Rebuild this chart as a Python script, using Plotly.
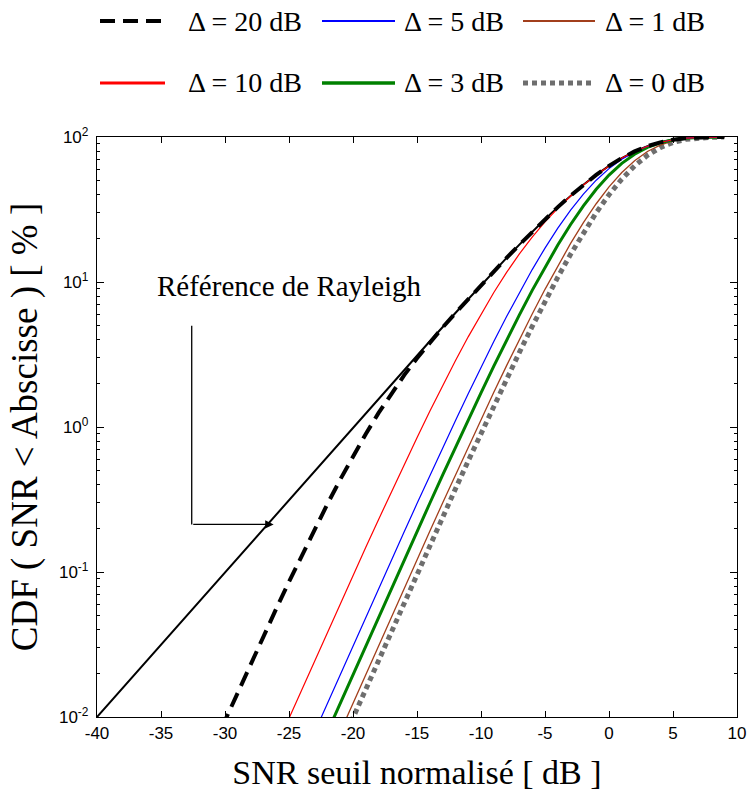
import plotly.graph_objects as go

# ---------------- data ----------------
x_ray = [-40, -35, -30, -25, -20, -18, -16, -14, -12, -10, -9, -8, -7, -6, -5, -4, -3, -2, -1,
         0, 1, 2, 3, 4, 5, 6, 7, 8, 9]
cdf_ray = [0.01, 0.0316, 0.09995, 0.3157, 0.995, 1.572, 2.481, 3.903, 6.115, 9.516, 11.83, 14.66,
           18.09, 22.21, 27.11, 32.84, 39.42, 46.79, 54.81, 63.21, 71.60, 79.51, 86.40, 91.89,
           95.77, 98.13, 99.33, 99.82, 99.96]

x_d20 = list(range(-31, 10))
cdf_d20 = [0.00606, 0.00951, 0.01488, 0.02322, 0.03605, 0.05573, 0.08559, 0.1305, 0.1971, 0.2943,
           0.4337, 0.6290, 0.8958, 1.250, 1.707, 2.279, 2.981, 3.830, 4.856, 6.104, 7.633, 9.516,
           11.83, 14.66, 18.09, 22.21, 27.11, 32.84, 39.42, 46.79, 54.81, 63.21, 71.60, 79.51,
           86.40, 91.89, 95.77, 98.13, 99.33, 99.82, 99.96]

x_d10 = list(range(-26, 10))
cdf_d10 = [0.006224, 0.009827, 0.01551, 0.02444, 0.03846, 0.06042, 0.09469, 0.1480, 0.2305, 0.3573,
           0.5510, 0.8439, 1.282, 1.927, 2.861, 4.186, 6.016, 8.470, 11.65, 15.63, 20.41, 25.96,
           32.23, 39.16, 46.71, 54.79, 63.21, 71.60, 79.51, 86.40, 91.89, 95.77, 98.13, 99.33,
           99.82, 99.96]

x_d5 = list(range(-23, 10))
cdf_d5 = [0.00786, 0.01243, 0.01963, 0.03097, 0.04883, 0.07687, 0.1208, 0.1894, 0.2962, 0.4617,
          0.7165, 1.106, 1.696, 2.580, 3.885, 5.778, 8.464, 12.18, 17.14, 23.52, 31.34, 40.43,
          50.37, 60.54, 70.27, 78.98, 86.24, 91.86, 95.77, 98.13, 99.33, 99.82, 99.96]

x_d3 = list(range(-22, 10))
cdf_d3 = [0.00787, 0.01244, 0.01966, 0.03103, 0.04895, 0.07710, 0.1213, 0.1903, 0.2980, 0.4652,
          0.7233, 1.119, 1.721, 2.628, 3.973, 5.940, 8.757, 12.69, 18.00, 24.92, 33.51, 43.58,
          54.62, 65.80, 76.14, 84.79, 91.28, 95.60, 98.10, 99.33, 99.82, 99.96]

x_d1 = list(range(-21, 10))
cdf_d1 = [0.00787, 0.01245, 0.01967, 0.03106, 0.04900, 0.07722, 0.1215, 0.1908, 0.2989, 0.4669,
          0.7267, 1.126, 1.734, 2.651, 4.018, 6.022, 8.903, 12.95, 18.45, 25.65, 34.65, 45.26,
          56.93, 68.69, 79.39, 88.00, 93.98, 97.48, 99.15, 99.78, 99.96]

x_d0 = list(range(-21, 10))
cdf_d0 = [0.00626, 0.00990, 0.01565, 0.02472, 0.03903, 0.06153, 0.09690, 0.1523, 0.2390, 0.3739,
          0.5831, 0.9056, 1.399, 2.148, 3.272, 4.935, 7.350, 10.79, 15.54, 21.90, 30.04, 39.96,
          51.27, 63.21, 74.65, 84.44, 91.72, 96.30, 98.67, 99.64, 99.93]

x_tickvals = [-40, -35, -30, -25, -20, -15, -10, -5, 0, 5, 10]
x_ticktext = ["-40", "-35", "-30", "-25", "-20", "-15", "-10", "-5", "0", "5", "10"]
y_tickvals = [0.01, 0.1, 1, 10, 100]
y_ticktext = ["10<sup>-2</sup>", "10<sup>-1</sup>", "10<sup>0</sup>", "10<sup>1</sup>", "10<sup>2</sup>"]

x_title = "SNR seuil normalisé [ dB ]"
y_title = "CDF ( SNR < Abscisse ) [ % ]"
annot_text = "Référence de Rayleigh"

# ---------------- styling ----------------
SERIF = "Liberation Serif, Times New Roman, serif"
SANS = "Liberation Sans, Arial, sans-serif"
W, H = 748, 793
L, R, T, B = 97, 11, 137, 76
PW, PH = W - L - R, H - T - B

BROWN = "#A23F1C"
series = [
    # key, label, x, y, color, width, dash, legend width
    ("ray", None, x_ray, cdf_ray, "#000000", 2, "solid", 2),
    ("d0", "Δ = 0 dB", x_d0, cdf_d0, "#6e6e6e", 5, "5px,4px", 5),
    ("d1", "Δ = 1 dB", x_d1, cdf_d1, BROWN, 1.3, "solid", 2.2),
    ("d3", "Δ = 3 dB", x_d3, cdf_d3, "#008000", 3, "solid", 3.5),
    ("d5", "Δ = 5 dB", x_d5, cdf_d5, "#0000FF", 1.2, "solid", 2.2),
    ("d10", "Δ = 10 dB", x_d10, cdf_d10, "#FF0000", 1.2, "solid", 3),
    ("d20", "Δ = 20 dB", x_d20, cdf_d20, "#000000", 4, "15px,8px", 4),
]

fig = go.Figure()
for key, label, xs, ys, col, wid, dash, _lw in series:
    fig.add_trace(go.Scatter(x=xs, y=ys, mode="lines", name=label or "Rayleigh",
                             line=dict(color=col, width=wid, dash=dash),
                             showlegend=False, hoverinfo="x+y"))

def px2x(px):
    return (px - L) / PW

def py2y(py):
    return (H - B - py) / PH

# manual legend: (key, col, row)
legend_layout = [("d20", 0, 0), ("d5", 1, 0), ("d1", 2, 0),
                 ("d10", 0, 1), ("d3", 1, 1), ("d0", 2, 1)]
col_line = [(100, 165), (322, 395), (523, 595)]
col_text = [186, 402, 603]
row_y = [21, 83]
style = {s[0]: s for s in series}
shapes = []
annotations = []
for key, c, r in legend_layout:
    _, label, _, _, col, wid, dash, lw = style[key]
    shapes.append(dict(type="line", xref="paper", yref="paper",
                       x0=px2x(col_line[c][0]), x1=px2x(col_line[c][1]),
                       y0=py2y(row_y[r]), y1=py2y(row_y[r]),
                       line=dict(color=col, width=lw, dash=dash)))
    annotations.append(dict(xref="paper", yref="paper", x=px2x(col_text[c]), y=py2y(row_y[r]),
                            xanchor="left", yanchor="middle", showarrow=False, text=label,
                            font=dict(family=SERIF, size=28, color="black")))

# Rayleigh reference callout
shapes.append(dict(type="line", xref="x", yref="y", x0=-32.6, x1=-32.6, y0=5.0, y1=0.213,
                   line=dict(color="black", width=1.3)))
annotations.append(dict(xref="x", yref="y", x=-26.2, y=-0.6716, ax=-32.6, ay=-0.6716,
                        axref="x", ayref="y", showarrow=True, arrowhead=2, arrowsize=1.3,
                        arrowwidth=1.3, arrowcolor="black", text=""))
annotations.append(dict(xref="x", yref="y", x=-25.0, y=0.972, showarrow=False, text=annot_text,
                        font=dict(family=SERIF, size=29, color="black")))

minor_y = [m * 10 ** e for e in range(-2, 2) for m in range(2, 10)]

fig.update_layout(
    width=W, height=H, margin=dict(l=L, r=R, t=T, b=B, autoexpand=False),
    paper_bgcolor="white", plot_bgcolor="white",
    shapes=shapes, annotations=annotations, showlegend=False,
    xaxis=dict(range=[-40, 10], tickmode="array", tickvals=x_tickvals, ticktext=x_ticktext,
               ticks="inside", ticklen=6, tickwidth=1, tickcolor="black",
               showline=True, linecolor="black", linewidth=1.3, mirror="ticks",
               showgrid=False, zeroline=False,
               tickfont=dict(family=SANS, size=17, color="black"),
               title=dict(text=x_title, font=dict(family=SERIF, size=34, color="black"), standoff=18)),
    yaxis=dict(type="log", range=[-2, 2], tickmode="array", tickvals=y_tickvals, ticktext=y_ticktext,
               ticks="inside", ticklen=7, tickwidth=1, tickcolor="black",
               showline=True, linecolor="black", linewidth=1.3, mirror="ticks",
               showgrid=False, zeroline=False, ticklabelstandoff=4,
               minor=dict(tickmode="array", tickvals=minor_y, ticks="inside", ticklen=3,
                          tickcolor="black", showgrid=False),
               tickfont=dict(family=SANS, size=17, color="black"),
               title=dict(text=y_title, font=dict(family=SERIF, size=37, color="black"), standoff=10)),
)

fig.write_html("out.html")
